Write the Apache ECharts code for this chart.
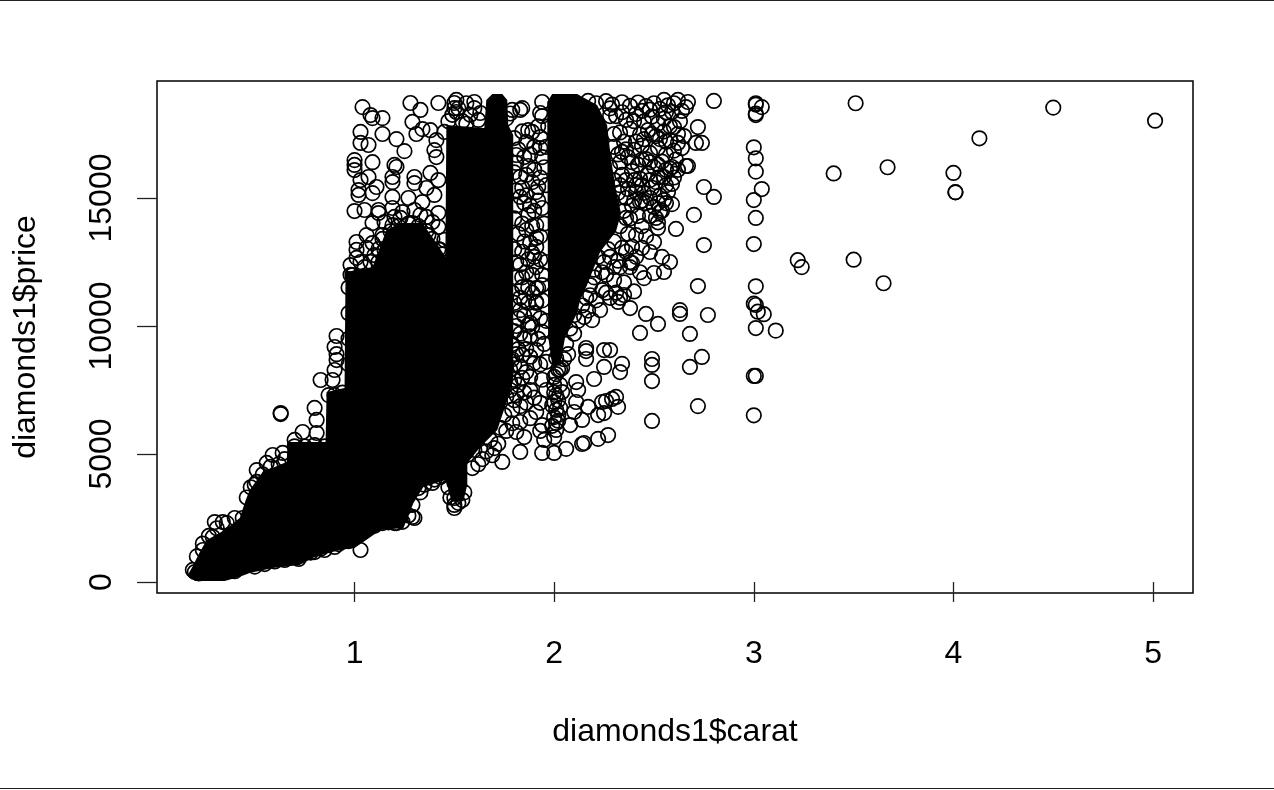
<!DOCTYPE html>
<html>
<head>
<meta charset="utf-8">
<style>
html,body{margin:0;padding:0;background:#fff;}
#frame{position:absolute;left:0;top:0;width:1274px;height:789px;box-sizing:border-box;border-top:1px solid #222;border-bottom:1px solid #222;}
#chart{position:absolute;left:0;top:0;width:1274px;height:790px;}
</style>
<script src="https://cdn.jsdelivr.net/npm/echarts@6/dist/echarts.min.js"></script>
</head>
<body>
<div id="frame"></div>
<div id="chart"></div>
<script>
const xTicks = [1, 2, 3, 4, 5];
const yTicks = [0, 5000, 10000, 15000];
const xTitle = 'diamonds1$carat';
const yTitle = 'diamonds1$price';

// Outline of the saturated (fully overplotted) ink, read as [carat, price]
const inkMain = [[0.165,270],[0.19,620],[0.225,1170],[0.26,1640],[0.35,2030],[0.425,2500],[0.455,3200],[0.475,3590],[0.54,4300],[0.66,4690],[0.665,5470],[0.855,5470],[0.86,7420],[0.95,7580],[0.955,12110],[1.09,12300],[1.16,13750],[1.23,14020],[1.34,14020],[1.41,13240],[1.455,12700],[1.46,17850],[1.65,17730],[1.66,18830],[1.69,19060],[1.74,19060],[1.765,18830],[1.77,17850],[1.795,17460],[1.795,7890],[1.765,7110],[1.715,5940],[1.63,5270],[1.565,4650],[1.565,3800],[1.545,3150],[1.485,3150],[1.465,3800],[1.455,3980],[1.345,3710],[1.295,3090],[1.245,2110],[1.13,2030],[1.08,1760],[1.0,1330],[0.925,1250],[0.8,980],[0.725,660],[0.59,550],[0.475,350],[0.425,200],[0.35,40],[0.2,40]];
const inkTwoCarat = [[1.965,18750],[1.99,19060],[2.115,19060],[2.215,18630],[2.265,17850],[2.285,16500],[2.31,15300],[2.335,14400],[2.31,13700],[2.23,12890],[2.165,11600],[2.13,11010],[2.115,10510],[2.055,9570],[2.03,8480],[1.99,8480],[1.97,9570]];

// Individually readable points, [carat, price]
const outliers = [[3.01,18700],[3.01,18650],[3.04,18550],[3.01,18240],[3.01,18300],[3.0,16980],[3.01,16550],[3.01,16030],[3.04,15350],[3.0,14920],[3.01,14220],[3.0,13200],[3.01,11550],[3.0,10870],[3.01,10820],[3.02,10560],[3.05,10460],[3.01,9920],[3.11,9820],[3.01,8050],[3.0,8050],[3.0,6510],[3.22,12570],[3.24,12300],[3.5,12590],[3.65,11670],[3.51,18700],[4.5,18530],[5.01,18020],[4.13,17330],[3.4,15960],[3.67,16200],[4.0,15980],[4.01,15220],[4.01,15230]];

const midCloud = [[1.04,18550],[1.08,18240],[1.09,18120],[1.14,18120],[1.03,17580],[1.14,17500],[1.03,17150],[1.07,17070],[1.21,17300],[1.25,16830],[1.28,18710],[1.33,18440],[1.29,17970],[1.31,17500],[1.34,17690],[1.38,17650],[1.42,18710],[1.41,17260],[1.4,16870],[1.41,16600],[1.45,17580],[1.0,16480],[1.0,16290],[1.0,16090],[1.09,16400],[1.2,16290],[1.21,16210],[1.38,15980],[1.3,15820],[1.19,15820],[1.19,15620],[1.03,15700],[1.07,15820],[1.11,15430],[1.02,15310],[1.02,15120],[1.09,15190],[1.42,15700],[1.3,15580],[1.36,15390],[1.4,15120],[1.19,15040],[1.0,14490],[1.05,14530],[1.12,14530],[1.12,14410],[1.19,14610],[1.27,15000],[1.34,14840],[1.42,14410],[1.36,14260],[1.09,14020],[1.42,13870],[1.14,13550],[1.06,13550],[1.01,13280],[1.01,12970],[1.01,12660],[1.06,13050],[1.09,13240],[1.37,13550],[1.29,14020],[1.2,14260],[1.24,14450],[1.3,14530],[1.15,14060],[1.19,13940],[1.23,14220],[1.33,14340],[1.39,14060],[1.45,13360],[1.43,12970],[0.98,12380],[0.99,11990],[1.03,12500],[1.1,12770],[1.15,12970],[1.12,12500]];

const lowFringe = [[0.91,9610],[0.9,9180],[0.91,8900],[0.91,8670],[0.9,8280],[0.83,7890],[0.89,7890],[0.8,6800],[0.81,6330],[0.81,5820],[0.74,5860],[0.7,5550],[0.64,5040],[0.59,4960],[0.56,4650],[0.51,4370],[0.51,3910],[0.44,2500],[0.3,2340],[0.34,2340],[0.29,1760],[0.24,1250],[0.63,6560],[0.63,6600],[0.9,1370],[0.85,1250],[0.8,1170],[1.03,1250],[1.14,2300],[1.2,2300],[1.29,2540],[1.3,2500],[1.21,2300],[1.39,3870],[1.44,4370],[1.32,3670],[1.29,3010],[0.2,390],[0.23,350],[0.19,470],[0.26,380],[0.31,400],[0.38,450]];

const massEdges = [[0.21,1000],[0.24,1500],[0.27,1800],[0.31,2100],[0.36,2300],[0.4,2500],[0.46,3300],[0.48,3700],[0.5,3800],[0.54,4200],[0.58,4500],[0.62,4600],[0.65,4800],[0.7,5300],[0.75,5300],[0.8,5350],[0.85,5300],[0.87,7300],[0.9,7300],[0.94,7400],[0.97,8500],[0.97,9500],[0.97,10500],[0.97,11500],[0.98,12000],[0.22,340],[0.3,370],[0.4,420],[0.5,600],[0.55,700],[0.6,800],[0.65,860],[0.72,900],[0.78,1150],[0.83,1300],[0.92,1480],[0.97,1600],[1.05,2000],[1.1,2200],[1.17,2330],[1.24,2350],[1.27,2600],[1.33,3500],[1.35,3800],[1.4,4000],[1.43,4100],[1.05,12300],[1.08,12500],[1.12,13000],[1.14,13400],[1.18,13700],[1.22,13900],[1.27,14000],[1.32,13900],[1.36,13700],[1.39,13400],[1.42,13000],[1.44,12800]];

const column15Low = [[1.5,3010],[1.52,3090],[1.5,2890],[1.5,3280],[1.51,3590],[1.5,3870],[1.47,3700],[1.55,3500],[1.48,3300],[1.54,3200],[1.76,7230],[1.83,6870],[1.91,6640],[1.83,6250],[1.81,5860],[1.85,5660],[1.83,5080],[1.74,4690],[1.64,4800],[1.59,4450],[1.7,5230],[1.73,6020],[1.6,5160],[1.56,5080],[1.68,5550],[1.75,6520],[1.79,6720]];

const column2Low = [[1.94,6130],[1.95,5550],[1.94,5040],[2.0,5040],[2.06,5200],[2.15,5430],[2.14,5390],[2.22,5590],[2.27,5740],[2.01,8750],[2.0,8010],[2.01,8120],[2.04,8360],[2.04,7420],[2.01,7300],[2.0,7030],[2.01,6720],[2.0,6440],[2.01,6210],[2.01,5940],[2.0,5660],[2.08,6130],[2.0,7700],[1.99,6900],[1.99,6100],[2.02,6520],[2.0,7400],[2.02,7100],[2.03,6800],[2.02,6300],[2.03,7700],[2.02,8300],[2.11,7810],[2.12,7500],[2.11,7030],[2.1,6640],[2.31,7230],[2.29,7150],[2.26,7070],[2.24,7030],[2.32,6840],[2.25,6600],[2.22,6520],[2.17,6840],[2.14,6330],[2.16,9140],[2.16,9020],[2.16,8710],[2.25,9060],[2.28,9060],[2.25,8400],[2.34,8520],[2.33,8200],[2.2,7930],[2.49,8710],[2.49,8480],[2.49,7850],[2.68,8400],[2.74,8790],[2.72,6870],[2.49,6290],[2.72,11560],[2.63,10620],[2.63,10470],[2.77,10430],[2.68,9690],[2.52,10080],[2.46,10470],[2.43,9730],[2.38,10700],[2.32,10940],[2.35,11210],[2.23,10620],[2.19,10230],[2.15,10350],[2.1,10430],[1.88,8010],[1.84,7970],[1.9,8550],[1.84,8870],[1.91,9060],[1.94,9770],[1.91,11480],[1.91,10900],[1.88,10120]];

const upperRight = [[2.8,18790],[2.66,18550],[2.67,18750],[2.62,18830],[2.55,18830],[2.72,17770],[2.71,17150],[2.74,17150],[2.65,17420],[2.64,16950],[2.66,16250],[2.67,16250],[2.75,15430],[2.8,15040],[2.7,14340],[2.61,13790],[2.75,13160],[2.52,13830],[2.5,13280],[2.41,13550],[2.44,13050],[2.48,12890],[2.54,12700],[2.58,12500],[2.55,12110],[2.5,12070],[2.45,11870],[2.57,15230],[2.55,14920],[2.53,14450],[2.51,14220],[2.59,14760],[2.59,16210],[2.62,17150],[2.6,17770],[2.59,18360],[2.43,14840],[2.41,15230],[2.36,14220],[2.39,12460],[2.38,12300],[2.3,12300],[2.17,18790],[2.21,18700],[2.26,18780],[2.29,18650],[2.34,18740],[2.38,18600],[2.42,18730],[2.46,18590],[2.5,18700],[2.53,18480],[2.57,18620],[2.31,18200],[2.36,18050],[2.41,18280],[2.45,17990],[2.49,18180],[2.52,17900],[2.55,18100],[2.33,17560],[2.38,17700],[2.43,17480],[2.47,17650],[2.51,17420],[2.55,17600],[2.58,17250],[2.3,17000],[2.35,17200],[2.4,16880],[2.44,17050],[2.48,16760],[2.52,16950],[2.56,16700],[2.6,16850],[2.33,16400],[2.37,16600],[2.42,16300],[2.46,16520],[2.5,16200],[2.54,16420],[2.58,16150],[2.61,16500],[2.34,15900],[2.39,16050],[2.43,15750],[2.47,15950],[2.51,15620],[2.55,15820],[2.59,15550],[2.37,15350],[2.41,15500],[2.45,15200],[2.49,15400],[2.53,15100],[2.46,14800],[2.5,14650],[2.54,14500],[2.48,14300],[2.52,14050],[2.39,14700],[2.35,14500],[2.33,13900],[2.37,13600],[2.3,13300],[2.34,13050],[2.28,12700],[2.32,12550],[2.26,12000],[2.3,11800],[2.24,11400],[2.28,11100],[2.2,11900],[2.18,11200],[2.35,11700],[2.4,11350],[2.43,12100],[2.38,12500]];

const upperExtra = [[2.28,18200],[2.3,17500],[2.32,16700],[2.28,16200],[2.3,15700],[2.32,15200],[2.29,14900],[2.36,15000],[2.38,14200],[2.42,14300],[2.44,13900],[2.46,13500],[2.39,13100],[2.36,12900],[2.41,12700],[2.33,12300],[2.27,13000],[2.25,12500],[2.24,12100],[2.22,12700],[2.2,12200],[2.18,11600],[2.16,11100],[2.21,11000],[2.26,11300],[2.31,11300],[2.33,11100],[2.14,10800],[2.17,10600],[2.12,10200],[2.08,9900],[2.1,9700],[2.06,9300],[2.07,8900],[2.05,8700],[2.03,8300],[2.44,18400],[2.4,18000],[2.48,18450],[2.34,18350],[2.28,18500],[2.6,18700],[2.64,18400],[2.63,18000],[2.56,18350],[2.58,17800],[2.62,17500],[2.56,17200],[2.53,17300],[2.49,17500],[2.45,17300],[2.41,17200],[2.36,16900],[2.34,16800],[2.39,16400],[2.44,16500],[2.48,16400],[2.52,16300],[2.56,16100],[2.62,16100],[2.6,15800],[2.56,15500],[2.52,15800],[2.48,15700],[2.44,15500],[2.4,15700],[2.36,15700],[2.33,15500],[2.56,14800],[2.52,14800],[2.48,15000],[2.44,14900],[2.4,14900]];

const gapCloud = [[1.6,18750],[1.6,18510],[1.63,18320],[1.5,18710],[1.51,18830],[1.5,18510],[1.51,18360],[1.52,18500],[1.47,18000],[1.49,18250],[1.56,18700],[1.58,18250],[1.62,18050],[1.54,18000],[1.56,17900],[1.78,18300],[1.76,18100],[1.79,18440],[1.84,18510],[1.83,18440],[1.94,18750],[1.93,18320],[1.87,17650],[1.89,17580],[1.93,17380],[1.93,16950],[1.86,17190],[1.8,17340],[1.81,16680],[1.81,16370],[1.87,16250],[1.83,15820],[1.89,15620],[1.92,15430],[1.91,15230],[1.94,14610],[1.83,15040],[1.87,14340],[1.91,13940],[1.91,13440],[1.91,13090],[1.9,12700],[1.91,12300],[1.89,12850],[1.86,13750],[1.92,11480],[1.91,10940],[1.87,10900],[1.87,10040],[1.89,9960],[1.84,11520],[1.83,10620],[1.8,14200],[1.82,13600],[1.8,13000],[1.83,12400],[1.81,11900],[1.79,11300],[1.85,11000],[1.82,10300],[1.8,9800],[1.85,9500],[1.82,9100],[1.79,8700],[1.78,8300],[1.8,7900],[1.84,12900],[1.86,12100],[1.85,14800],[1.88,14700],[1.95,16200],[1.96,15500],[1.95,14000],[1.96,12500],[1.94,11000],[1.96,10200],[1.95,9300],[1.97,17800],[1.96,17000],[1.94,18200]];

const gapExtra = [[1.8,16000],[1.82,16900],[1.84,17600],[1.85,16600],[1.86,15900],[1.88,16700],[1.9,17000],[1.92,17800],[1.9,16100],[1.94,16600],[1.93,15800],[1.84,15400],[1.81,15300],[1.86,15100],[1.9,14500],[1.92,14900],[1.81,14700],[1.84,14000],[1.89,13900],[1.93,13500],[1.85,13300],[1.88,13250],[1.81,12500],[1.87,12600],[1.93,12600],[1.94,12000],[1.89,12000],[1.84,11900],[1.87,11500],[1.8,10900],[1.83,11100],[1.89,11300],[1.94,11600],[1.9,10500],[1.85,10400],[1.81,10000],[1.93,10300],[1.88,9600],[1.83,9700],[1.92,9500],[1.79,9300],[1.86,9100],[1.81,8900],[1.88,8800],[1.93,8500],[1.83,8400],[1.86,8200],[1.8,8500],[1.78,7800],[1.82,7700],[1.85,7400],[1.81,7300],[1.78,7500],[1.86,7000],[1.8,7100],[1.88,7500],[1.9,7200],[1.94,7900],[1.96,8600],[1.96,7500],[1.93,7000],[1.88,6400],[1.93,5900],[1.79,6200],[1.76,5900],[1.72,5400],[1.69,4950],[1.66,5100],[1.62,4600]];

const inkOutlines = [inkMain, inkTwoCarat];
const points = [].concat(outliers, midCloud, lowFringe, massEdges, column15Low, column2Low, upperRight, upperExtra, gapCloud, gapExtra);
const textFont = '"Liberation Sans", Arial, sans-serif';

const chart = echarts.init(document.getElementById('chart'), null, {renderer: 'canvas'});
chart.setOption({
  animation: false,
  backgroundColor: 'transparent',
  grid: {left: 157, top: 81, right: 81, bottom: 197, show: true, borderColor: '#000', borderWidth: 1.5, backgroundColor: 'transparent'},
  xAxis: {
    type: 'value', min: 0.0105, max: 5.2,
    splitLine: {show: false}, axisLine: {show: false},
    axisTick: {show: true, length: 20, customValues: xTicks, lineStyle: {color: '#222', width: 1.3}},
    axisLabel: {show: true, customValues: xTicks, margin: 45, fontSize: 32, color: '#000', fontFamily: textFont},
    name: xTitle, nameLocation: 'middle', nameGap: 123,
    nameTextStyle: {fontSize: 32, color: '#000', fontFamily: textFont}
  },
  yAxis: {
    type: 'value', min: -430, max: 19570,
    splitLine: {show: false}, axisLine: {show: false},
    axisTick: {show: true, length: 20, customValues: yTicks, lineStyle: {color: '#222', width: 1.3}},
    axisLabel: {show: true, customValues: yTicks, rotate: 90, margin: 39, fontSize: 32, color: '#000', fontFamily: textFont, align: 'center', verticalAlign: 'bottom', formatter: function (v) { return String(v); }},
    name: yTitle, nameLocation: 'middle', nameGap: 115,
    nameTextStyle: {fontSize: 32, color: '#000', fontFamily: textFont}
  },
  series: [
    {
      type: 'custom', silent: true, z: 2, clip: true,
      data: inkOutlines.map(function (o, i) { return [o[0][0], o[0][1], i]; }),
      encode: {x: 0, y: 1},
      renderItem: function (params, api) {
        const outline = inkOutlines[api.value(2)];
        return {
          type: 'polygon',
          shape: {points: outline.map(function (v) { return api.coord(v); })},
          style: {fill: '#000', stroke: '#000', lineWidth: 0}
        };
      }
    },
    {
      type: 'scatter', silent: true, z: 3, data: points,
      symbol: 'circle', symbolSize: 14.5,
      itemStyle: {color: 'transparent', borderColor: '#000', borderWidth: 1.7, opacity: 1},
      progressive: 0, large: false
    }
  ]
});
</script>
</body>
</html>
